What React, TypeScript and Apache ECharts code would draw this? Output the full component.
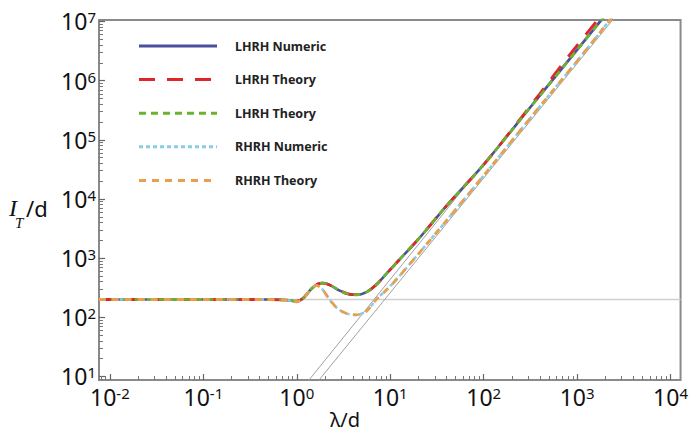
import React, { useEffect, useRef } from "react";
import * as echarts from "echarts";

// ---- data (real units: lambda/d and I_T/d) ----
const lhrhLambda = [0.0076, 0.1, 0.5, 0.79, 1.0, 1.17, 1.41, 1.66, 1.91, 2.29, 2.88, 3.63, 4.47, 5.62, 7.08, 8.91, 12.3, 20, 39.8, 100, 316, 1000, 2239];
const lhrhNumeric = [200, 200, 200, 195, 186, 209, 295, 363, 380, 347, 282, 245, 240, 269, 355, 525, 912, 2090, 7590, 38000, 355000, 3.3e6, 1.58e7];
const lhrhTheoryGreen = [200, 200, 200, 195, 187, 210, 293, 361, 379, 348, 283, 246, 240, 268, 354, 524, 910, 2090, 7590, 38000, 355000, 3.3e6, 1.58e7];

const lhrhRedLambda = [0.0076, 0.1, 0.5, 0.79, 1.0, 1.17, 1.41, 1.66, 1.91, 2.29, 2.88, 3.63, 4.47, 5.62, 7.08, 8.91, 12.3, 20, 39.8, 100, 200, 398, 794, 1700, 2089];
const lhrhTheoryRed = [200, 200, 200, 195, 187, 210, 293, 361, 379, 348, 283, 246, 240, 268, 354, 524, 910, 2090, 7590, 38000, 148000, 600000, 2.5e6, 1.12e7, 1.7e7];

const rhrhLambda = [0.0076, 0.1, 0.5, 0.79, 1.0, 1.2, 1.41, 1.62, 1.86, 2.19, 2.63, 3.31, 4.27, 5.5, 7.08, 8.91, 11.5, 20, 39.8, 112, 316, 1000, 2510];
const rhrhNumeric = [200, 200, 200, 195, 182, 214, 302, 347, 302, 209, 148, 117, 110, 126, 200, 282, 427, 1175, 4270, 30900, 234000, 2.14e6, 1.32e7];
const rhrhTheory = [200, 200, 200, 195, 183, 213, 300, 346, 303, 210, 149, 118, 110, 125, 199, 281, 426, 1175, 4270, 30900, 234000, 2.14e6, 1.32e7];

const flatLambda = [0.0076, 12800];
const flatLevel = [200, 200];
const asym1Lambda = [1.26, 1995];
const asym1I = [7.6, 1.38e7];
const asym2Lambda = [1.585, 2818];
const asym2I = [7.35, 1.45e7];

const majorExponents = [-2, -1, 0, 1, 2, 3, 4];
const yExponents = [1, 2, 3, 4, 5, 6, 7];

const legendItems = [
  { label: "LHRH Numeric", color: "#4b4f9e", dash: null as number[] | null },
  { label: "LHRH Theory", color: "#e0262a", dash: [16, 12] },
  { label: "LHRH Theory", color: "#6ab42d", dash: [7, 5] },
  { label: "RHRH Numeric", color: "#8ccbe8", dash: [4, 3] },
  { label: "RHRH Theory", color: "#e9a04e", dash: [7, 6] },
];

const X_MIN = -2.117, X_MAX = 4.107, Y_MIN = 0.94, Y_MAX = 7.025;
const FONT = "Noto Sans";

function toLog(xs: number[], ys: number[]) {
  return xs.map((x, i) => [Math.log10(x), Math.log10(ys[i])]);
}

function minorPositions(lo: number, hi: number) {
  const out: number[] = [];
  for (let n = Math.floor(lo) - 1; n <= Math.ceil(hi); n++) {
    for (let k = 2; k <= 9; k++) {
      const v = n + Math.log10(k);
      if (v > lo && v < hi) out.push(v);
    }
  }
  return out;
}

const labelRich = {
  b: { fontSize: 23, fontFamily: FONT, color: "#111", lineHeight: 23, padding: [4, 0, 0, 0], verticalAlign: "bottom" },
  s: { fontSize: 15, fontFamily: FONT, color: "#111", lineHeight: 15, verticalAlign: "top" },
};
const fmt = (v: number) => `{b|10}{s|${Math.round(v)}}`;

export default function App() {
  const ref = useRef<HTMLDivElement>(null);
  useEffect(() => {
    if (!ref.current) return;
    const chart = echarts.init(ref.current, null, { renderer: "svg" });
    const lineSeries = (name: string, data: number[][], color: string, type: any, width: number, z: number) => ({
      name,
      type: "line",
      data,
      showSymbol: false,
      symbol: "none",
      smooth: 0.3,
      clip: true,
      z,
      lineStyle: { color, width, type },
    });
    const axisTickMajor = { show: true, inside: true, length: 6, lineStyle: { color: "#666", width: 1.2 } };
    const axisTickMinor = { show: true, inside: true, length: 4, lineStyle: { color: "#777", width: 1 } };
    const hiddenLine = { show: false, onZero: false };
    chart.setOption({
      animation: false,
      backgroundColor: "#fff",
      grid: { left: 99, right: 8, top: 20, bottom: 54, show: true, borderColor: "#8a8a8a", borderWidth: 2, backgroundColor: "transparent" },
      xAxis: [
        {
          type: "value", min: X_MIN, max: X_MAX, position: "bottom",
          axisLine: hiddenLine, splitLine: { show: false },
          axisTick: { ...axisTickMajor, customValues: majorExponents },
          axisLabel: { customValues: majorExponents, formatter: fmt, rich: labelRich, margin: 5 },
        },
        {
          type: "value", min: X_MIN, max: X_MAX, position: "bottom",
          axisLine: hiddenLine, splitLine: { show: false },
          axisTick: { ...axisTickMinor, customValues: minorPositions(X_MIN, X_MAX) },
          axisLabel: { show: false },
        },
      ],
      yAxis: [
        {
          type: "value", min: Y_MIN, max: Y_MAX, position: "left",
          axisLine: hiddenLine, splitLine: { show: false },
          axisTick: { ...axisTickMajor, customValues: yExponents },
          axisLabel: { customValues: yExponents, formatter: fmt, rich: labelRich, margin: 3 },
        },
        {
          type: "value", min: Y_MIN, max: Y_MAX, position: "left",
          axisLine: hiddenLine, splitLine: { show: false },
          axisTick: { ...axisTickMinor, customValues: minorPositions(Y_MIN, Y_MAX) },
          axisLabel: { show: false },
        },
      ],
      series: [
        { ...lineSeries("flat", toLog(flatLambda, flatLevel), "#cfcfcf", "solid", 1.6, 1), smooth: false },
        { ...lineSeries("asym1", toLog(asym1Lambda, asym1I), "#a0a0a0", "solid", 1, 1), smooth: false },
        { ...lineSeries("asym2", toLog(asym2Lambda, asym2I), "#a0a0a0", "solid", 1, 1), smooth: false },
        lineSeries("LHRH Numeric", toLog(lhrhLambda, lhrhNumeric), "#4b4f9e", "solid", 2.6, 2),
        lineSeries("RHRH Numeric", toLog(rhrhLambda, rhrhNumeric), "#8ccbe8", [4, 3], 2.6, 3),
        lineSeries("LHRH Theory A", toLog(lhrhRedLambda, lhrhTheoryRed), "#e0262a", [16, 12], 2.8, 4),
        lineSeries("LHRH Theory B", toLog(lhrhLambda, lhrhTheoryGreen), "#6ab42d", [7, 5], 2.6, 5),
        lineSeries("RHRH Theory", toLog(rhrhLambda, rhrhTheory), "#e9a04e", [7, 6], 2.8, 6),
      ],
      graphic: [
        ...legendItems.flatMap((it, i) => {
          const y = 46 + i * 33.6;
          return [
            {
              type: "line", z: 100,
              shape: { x1: 139, y1: y, x2: 217, y2: y },
              style: { stroke: it.color, lineWidth: 3, lineDash: it.dash || undefined },
            },
            {
              type: "text", z: 100, x: 235, y,
              style: { text: it.label, fontSize: 12.5, fontWeight: "bold", fontFamily: FONT, fill: "#222", verticalAlign: "middle", align: "left" },
            },
          ];
        }),
        { type: "text", x: 9, y: 208, style: { text: "I", fontSize: 24, fontStyle: "italic", fontFamily: "Liberation Serif", fill: "#111", verticalAlign: "middle", align: "left" } },
        { type: "text", x: 15, y: 223, style: { text: "T", fontSize: 15, fontStyle: "italic", fontFamily: "Liberation Serif", fill: "#111", verticalAlign: "middle", align: "left" } },
        { type: "text", x: 26, y: 208, style: { text: "/d", fontSize: 22, fontFamily: FONT, fill: "#111", verticalAlign: "middle", align: "left" } },
        { type: "text", x: 345, y: 419, style: { text: "λ/d", fontSize: 20, fontFamily: FONT, fill: "#111", verticalAlign: "middle", align: "center" } },
      ],
    });
    return () => chart.dispose();
  }, []);
  return <div ref={ref} style={{ position: "fixed", left: 0, top: 0, width: 691, height: 434, background: "#fff" }} />;
}
